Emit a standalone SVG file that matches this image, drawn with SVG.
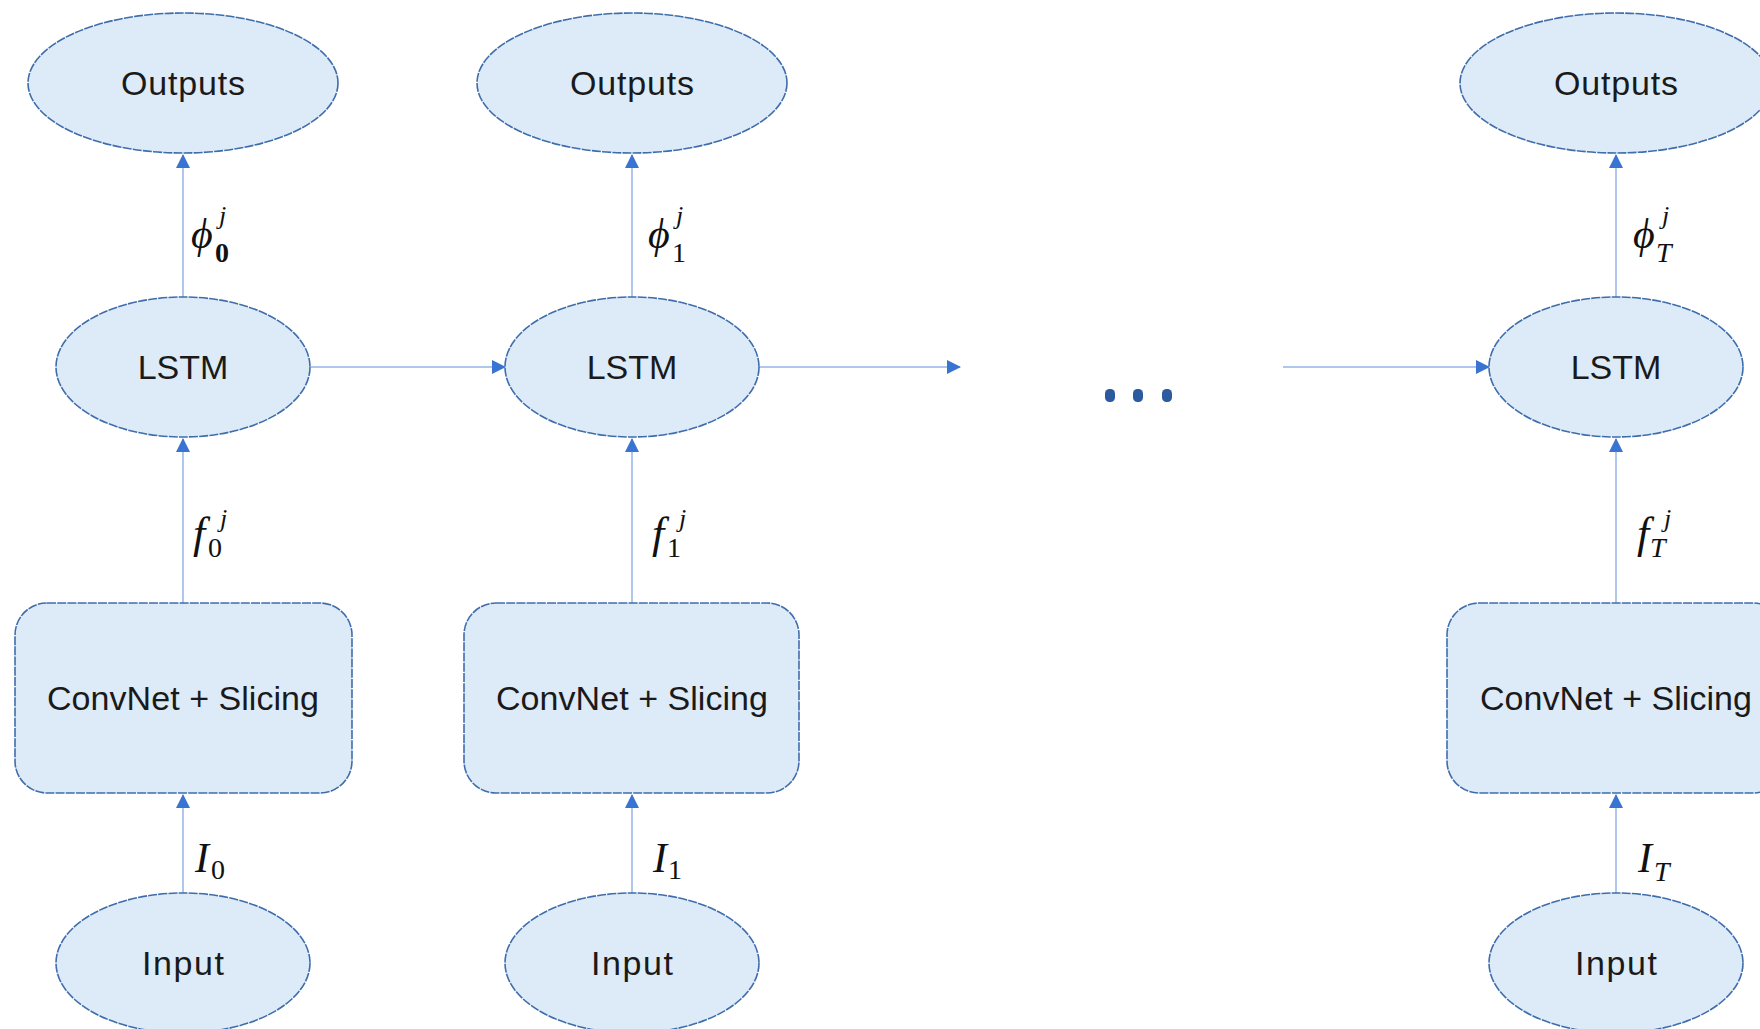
<svg xmlns="http://www.w3.org/2000/svg" width="1760" height="1029" viewBox="0 0 1760 1029">
<style>
.node{fill:#ddebf8;stroke:#3f6dab;stroke-width:1.6;stroke-dasharray:9 1.2}
.lbl{font-family:"Liberation Sans",Arial,sans-serif;font-size:34px;fill:#1a1a1a;text-anchor:middle}
.conn{stroke:#afc7ed;stroke-width:2;fill:none}
.m{font-family:"Liberation Serif","Times New Roman",serif;fill:#111}
.mi{font-style:italic}
.dot{fill:#2c5a9e}
</style>
<defs>
<marker id="ah" markerUnits="userSpaceOnUse" markerWidth="14" markerHeight="14" viewBox="0 0 14 14" refX="13" refY="7" orient="auto">
<path d="M0,0 L14,7 L0,14 z" fill="#3a74d2"/>
</marker>
</defs>
<rect width="1760" height="1029" fill="#ffffff"/>

<g id="connectors">
<line class="conn" x1="183" y1="297" x2="183" y2="155" marker-end="url(#ah)"/>
<line class="conn" x1="183" y1="603" x2="183" y2="439" marker-end="url(#ah)"/>
<line class="conn" x1="183" y1="893" x2="183" y2="795" marker-end="url(#ah)"/>
<line class="conn" x1="632" y1="297" x2="632" y2="155" marker-end="url(#ah)"/>
<line class="conn" x1="632" y1="603" x2="632" y2="439" marker-end="url(#ah)"/>
<line class="conn" x1="632" y1="893" x2="632" y2="795" marker-end="url(#ah)"/>
<line class="conn" x1="1616" y1="297" x2="1616" y2="155" marker-end="url(#ah)"/>
<line class="conn" x1="1616" y1="603" x2="1616" y2="439" marker-end="url(#ah)"/>
<line class="conn" x1="1616" y1="893" x2="1616" y2="795" marker-end="url(#ah)"/>
<line class="conn" x1="311" y1="367" x2="505" y2="367" marker-end="url(#ah)"/>
<line class="conn" x1="759" y1="367" x2="960" y2="367" marker-end="url(#ah)"/>
<line class="conn" x1="1283" y1="367" x2="1489" y2="367" marker-end="url(#ah)"/>

<text class="m mi" x="191" y="248" font-size="42">ϕ</text>
<text class="m" x="215" y="262" font-size="28" font-weight="bold">0</text>
<text class="m mi" x="219" y="224" font-size="26">j</text>

<text class="m mi" x="648" y="248" font-size="42">ϕ</text>
<text class="m" x="672" y="262" font-size="28">1</text>
<text class="m mi" x="676" y="224" font-size="26">j</text>

<text class="m mi" x="1633" y="248" font-size="42">ϕ</text>
<text class="m mi" x="1656" y="262" font-size="28">T</text>
<text class="m mi" x="1662" y="224" font-size="26">j</text>

<text class="m mi" x="193" y="548" font-size="44">f</text>
<text class="m" x="208" y="557" font-size="28">0</text>
<text class="m mi" x="220" y="527" font-size="26">j</text>

<text class="m mi" x="652" y="548" font-size="44">f</text>
<text class="m" x="667" y="557" font-size="28">1</text>
<text class="m mi" x="679" y="527" font-size="26">j</text>

<text class="m mi" x="1637" y="548" font-size="44">f</text>
<text class="m mi" x="1650" y="557" font-size="28">T</text>
<text class="m mi" x="1664" y="527" font-size="26">j</text>

<text class="m mi" x="195" y="872" font-size="42">I</text>
<text class="m" x="211" y="879" font-size="28">0</text>

<text class="m mi" x="653" y="872" font-size="42">I</text>
<text class="m" x="668" y="879" font-size="28">1</text>

<text class="m mi" x="1638" y="872" font-size="42">I</text>
<text class="m mi" x="1654" y="881" font-size="28">T</text>
</g>

<g id="ellipsis">
<rect class="dot" x="1105" y="389" width="10" height="13" rx="4.5"/>
<rect class="dot" x="1133" y="389" width="10" height="13" rx="4.5"/>
<rect class="dot" x="1162" y="389" width="10" height="13" rx="4.5"/>
</g>

<g id="outputs0"><ellipse class="node" cx="183" cy="83" rx="155" ry="70"/><text class="lbl" x="183" y="95" textLength="124" lengthAdjust="spacing">Outputs</text></g>
<g id="lstm0"><ellipse class="node" cx="183" cy="367" rx="127" ry="70"/><text class="lbl" x="183" y="379">LSTM</text></g>
<g id="convnet0"><rect class="node" x="15" y="603" width="337" height="190" rx="32"/><text class="lbl" x="183" y="710" textLength="272" lengthAdjust="spacing">ConvNet + Slicing</text></g>
<g id="input0"><ellipse class="node" cx="183" cy="963" rx="127" ry="70"/><text class="lbl" x="183" y="975" textLength="82" lengthAdjust="spacing">Input</text></g>

<g id="outputs1"><ellipse class="node" cx="632" cy="83" rx="155" ry="70"/><text class="lbl" x="632" y="95" textLength="124" lengthAdjust="spacing">Outputs</text></g>
<g id="lstm1"><ellipse class="node" cx="632" cy="367" rx="127" ry="70"/><text class="lbl" x="632" y="379">LSTM</text></g>
<g id="convnet1"><rect class="node" x="464" y="603" width="335" height="190" rx="32"/><text class="lbl" x="632" y="710" textLength="272" lengthAdjust="spacing">ConvNet + Slicing</text></g>
<g id="input1"><ellipse class="node" cx="632" cy="963" rx="127" ry="70"/><text class="lbl" x="632" y="975" textLength="82" lengthAdjust="spacing">Input</text></g>

<g id="outputsT"><ellipse class="node" cx="1616" cy="83" rx="156" ry="70"/><text class="lbl" x="1616" y="95" textLength="124" lengthAdjust="spacing">Outputs</text></g>
<g id="lstmT"><ellipse class="node" cx="1616" cy="367" rx="127" ry="70"/><text class="lbl" x="1616" y="379">LSTM</text></g>
<g id="convnetT"><rect class="node" x="1447" y="603" width="338" height="190" rx="32"/><text class="lbl" x="1616" y="710" textLength="272" lengthAdjust="spacing">ConvNet + Slicing</text></g>
<g id="inputT"><ellipse class="node" cx="1616" cy="963" rx="127" ry="70"/><text class="lbl" x="1616" y="975" textLength="82" lengthAdjust="spacing">Input</text></g>
</svg>
